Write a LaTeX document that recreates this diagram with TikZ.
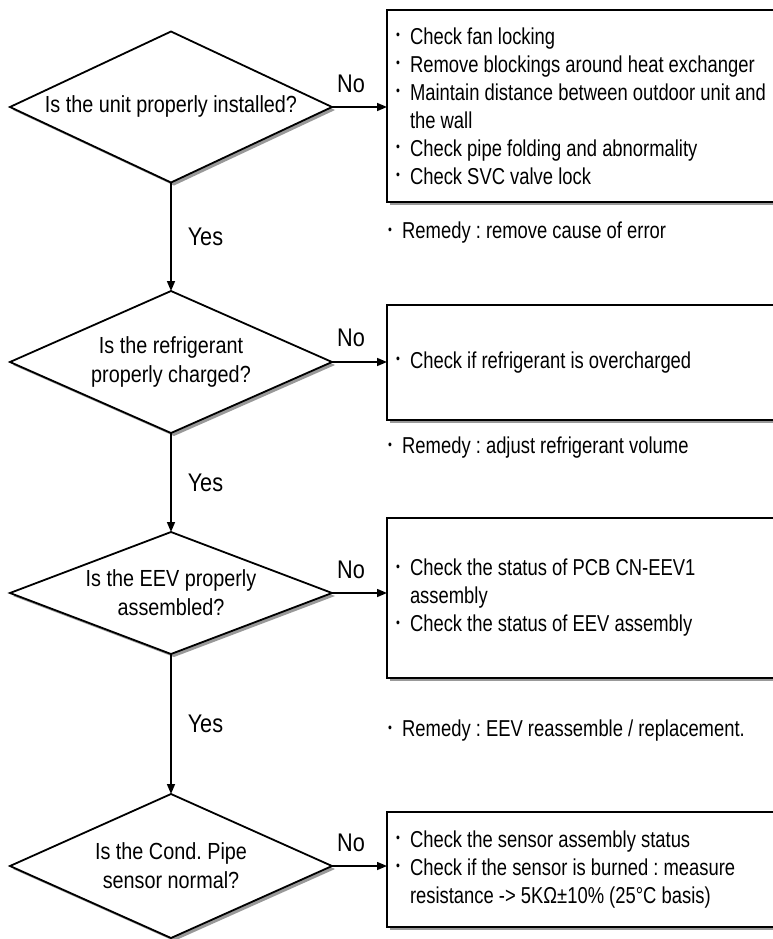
\documentclass[tikz,border=0pt]{standalone}
\usepackage{fontspec}
\usepackage{graphicx}
\setmainfont[FakeStretch=0.80]{Liberation Sans}
\newfontfamily\diafont[FakeStretch=0.85]{Liberation Sans}
\frenchspacing
\usetikzlibrary{shapes.geometric,arrows.meta,shadows}
\newcommand\bul{\makebox[15bp][l]{\hspace{1bp}\raisebox{0.2em}{\scalebox{0.6}{\textbullet}}}}
\newcommand\ind{\hspace*{15bp}}
\tikzset{
  txt/.style={font=\frenchspacing\fontsize{23bp}{28bp}\selectfont},
  dia/.style={diamond, draw, line width=1.8bp, fill=white, minimum width=322bp,
    inner sep=0pt, outer sep=0pt, aspect=2.2,
    drop shadow={opacity=1, fill=black!40, shadow xshift=3bp, shadow yshift=-3bp}},
  dtext/.style={font=\frenchspacing\diafont\fontsize{23.3bp}{29bp}\selectfont, align=center, inner sep=0pt},
  box/.style={rectangle, draw, line width=1.8bp, fill=white, minimum width=400bp,
    text width=384bp, inner xsep=8bp, inner ysep=0pt, outer sep=0pt, align=flush left, txt,
    anchor=north west,
    drop shadow={opacity=1, fill=black!40, shadow xshift=3bp, shadow yshift=-3bp}},
  arr/.style={line width=1.5bp, -{Triangle[length=10bp, width=8bp]}},
  lbl/.style={txt, inner sep=0pt},
  yn/.style={font=\diafont\fontsize{25.5bp}{30bp}\selectfont, inner sep=0pt},
}
\begin{document}
\begin{tikzpicture}[x=1bp, y=-1bp]
\useasboundingbox (0,0) rectangle (773,939);
\fill[white] (0,0) rectangle (773,939);

% diamonds
\node[dia, minimum height=151bp] (d1) at (171,107) {};
\node[dtext] (t1) at ([yshift=1bp]d1.center) {Is the unit properly installed?};
\node[dia, minimum height=142bp] (d2) at (171,362) {};
\node[dtext] (t2) at (d2) {Is the refrigerant\\properly charged?};
\node[dia, minimum height=122bp] (d3) at (171,593) {};
\node[dtext] (t3) at (d3) {Is the EEV properly\\assembled?};
\node[dia, minimum height=144bp] (d4) at (171,866) {};
\node[dtext] (t4) at (d4) {Is the Cond. Pipe\\sensor normal?};

% boxes
\node[box, minimum height=192bp] (b1) at (387,10) {%
\bul Check fan locking\\
\bul Remove blockings around heat exchanger\\
\bul Maintain distance between outdoor unit and\\
\ind the wall\\
\bul Check pipe folding and abnormality\\
\bul Check SVC valve lock};
\node[box, minimum height=115bp] (b2) at (387,305) {%
\bul Check if refrigerant is overcharged};
\node[box, minimum height=160bp] (b3) at (387,518) {%
\bul Check the status of PCB CN-EEV1\\
\ind assembly\\
\bul Check the status of EEV assembly};
\node[box, minimum height=115bp] (b4) at (387,812) {%
\bul Check the sensor assembly status\\
\bul Check if the sensor is burned : measure\\
\ind resistance -> 5KΩ±10\% (25°C basis)};

% remedies
\node[lbl, anchor=west] (r1) at (387,233) {\bul Remedy : remove cause of error};
\node[lbl, anchor=west] (r2) at (387,448) {\bul Remedy : adjust refrigerant volume};
\node[lbl, anchor=west] (r3) at (387,731) {\bul Remedy : EEV reassemble / replacement.};

% connectors
\draw[arr] (d1.east) -- (d1.east -| b1.west);
\draw[arr] (d2.east) -- (d2.east -| b2.west);
\draw[arr] (d3.east) -- (d3.east -| b3.west);
\draw[arr] (d4.east) -- (d4.east -| b4.west);
\draw[arr] (d1.south) -- (d2.north) node[yn, midway, right=16bp] (y1) {Yes};
\draw[arr] (d2.south) -- (d3.north) node[yn, midway, right=16bp] (y2) {Yes};
\draw[arr] (d3.south) -- (d4.north) node[yn, midway, right=16bp] (y3) {Yes};

% No labels
\node[yn] (n1) at (351,84) {No};
\node[yn] (n2) at (351,338) {No};
\node[yn] (n3) at (351,570) {No};
\node[yn] (n4) at (351,843) {No};
\end{tikzpicture}
\end{document}
